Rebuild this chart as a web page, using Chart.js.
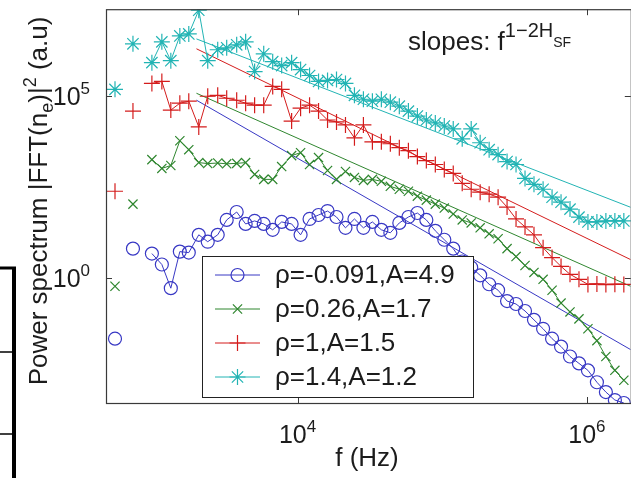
<!DOCTYPE html>
<html>
<head>
<meta charset="utf-8">
<script src="https://cdn.jsdelivr.net/npm/chart.js@4.4.0/dist/chart.umd.min.js"></script>
<style>
  html, body { margin: 0; padding: 0; background: #fff; overflow: hidden; }
  #wrap { width: 631px; height: 478px; overflow: hidden; }
</style>
</head>
<body>
<div id="wrap"><canvas id="spectrum" width="640" height="478"></canvas></div>
<script>
// frequency bins (Hz), shared by the four spectra
const freq = [
  547, 728, 984, 1153, 1330, 1535, 1770, 2075, 2393, 2805,
  3236, 3794, 4375, 5047, 5834, 6730, 7762, 9095, 10490, 12100,
  13960, 16110, 18580, 21430, 24720, 28510, 32890, 37940, 43770, 50490,
  58340, 67300, 77620, 89540, 103300, 119100, 137400, 158500, 182800, 210900,
  243200, 280500, 323600, 373300, 430500, 497700, 574100, 662200, 763800, 881000,
  1016000, 1172000, 1352000, 1560000, 1799000
];

// power spectra |FFT(n_e)|^2, arbitrary units
const powerRhoNeg = [
  0.0211, 6.37, 4.65, 2.33, 0.518, 5.27, 4.95, 15.3, 9.88, 15.3,
  39.3, 64.9, 30.5, 36.9, 30.5, 21.0, 34.6, 30.5, 15.3, 41.8,
  53.7, 69.1, 47.3, 23.8, 41.8, 23.8, 34.6, 21.0, 17.4, 32.5,
  47.3, 60.9, 39.3, 19.7, 11.2, 6.37, 2.82, 1.93, 1.17, 0.665,
  0.456, 0.229, 0.190, 0.122, 0.0695, 0.0395, 0.0211, 0.0128, 0.00682, 0.00440,
  0.00283, 0.00133, 0.000713, 0.000431, 0.000357
];
const powerRho026 = [
  0.587, 107, 1800, 1030, 1240, 5940, 3380, 1490, 1400, 1450,
  1380, 1420, 1490, 704, 514, 514, 1160, 2320, 2800, 1320,
  2050, 904, 514, 849, 583, 483, 514, 454, 331, 275,
  242, 177, 138, 107, 83.4, 57.2, 39.3, 32.5, 23.8, 16.3,
  11.9, 6.37, 3.85, 2.19, 1.41, 0.91, 0.456, 0.202, 0.115, 0.074,
  0.0395, 0.0186, 0.00682, 0.00283, 0.00151
];
const powerRho1 = [
  242, 3.9e4, 2.26e5, 2.56e5, 4.16e4, 6.44e4, 7.31e4, 1.43e4, 1.0e5, 1.06e5,
  8.83e4, 7.78e4, 6.44e4, 5.69e4, 5.69e4, 1.87e5, 1.55e5, 2.08e4, 4.71e4, 5.69e4,
  3.9e4, 2.22e4, 1.96e4, 1.62e4, 7170, 1.62e4, 5580, 5580, 4920, 3830,
  3170, 2180, 1690, 1320, 963, 750, 400, 275, 228, 201,
  166, 88.8, 41.8, 25.3, 15.3, 6.78, 3.62, 2.06, 1.25, 0.91,
  0.66, 0.68, 0.65, 0.67, 0.66
];
const powerRho14 = [
  1.55e5, 2.78e6, 8.44e5, 3.15e6, 9.57e5, 4.59e6, 5.21e6, 2.35e7, 9.57e5, 1.91e6,
  2.16e6, 2.61e6, 3.15e6, 4.8e5, 1.48e6, 8.99e5, 7.0e5, 8.44e5, 5.44e5, 3.73e5,
  2.56e5, 2.73e5, 2.9e5, 2.26e5, 1.06e5, 8.28e4, 7.31e4, 8.28e4, 6.87e4, 5.34e4,
  3.9e4, 2.85e4, 2.22e4, 1.84e4, 1.52e4, 1.26e4, 6730, 1.26e4, 5240, 3380,
  2470, 1590, 1320, 547, 376, 275, 166, 121, 78, 47,
  34.6, 34.6, 36.9, 36.9, 36.9
];

const seriesLabels = ['ρ=-0.091,A=4.9', 'ρ=0.26,A=1.7', 'ρ=1,A=1.5', 'ρ=1.4,A=1.2'];

// power-law fits f^(1-2H): value at the start and end frequency
const fitFreq = [2.0e3, 2.0e6];
const fitRhoNeg = [7.8e4, 0.0106];
const fitRho026 = [1.21e5, 0.587];
const fitRho1 = [2.03e6, 3.19];
const fitRho14 = [3.8e6, 88];

const xTicks = [1e4, 1e6];
const yTicks = [1e0, 1e5];

const FONT = '"Liberation Sans", Arial, Helvetica, sans-serif';
const TEXT = '#1c1c1c';
const colors = ['#3838c4', '#2f862f', '#d41c1c', '#22b4b4'];
const styles = ['circle', 'crossRot', 'cross', 'star'];
const radii = [6.5, 6.5, 8, 8];
const powers = [powerRhoNeg, powerRho026, powerRho1, powerRho14];
const fits = [fitRhoNeg, fitRho026, fitRho1, fitRho14];

const datasets = [];
powers.forEach((p, i) => {
  datasets.push({
    label: seriesLabels[i],
    data: freq.map((f, k) => ({ x: f, y: p[k] })),
    borderColor: colors[i],
    backgroundColor: 'rgba(0,0,0,0)',
    borderWidth: 1,
    pointStyle: styles[i],
    pointRadius: radii[i],
    pointBorderWidth: 1.2,
    pointBorderColor: colors[i],
    pointBackgroundColor: 'rgba(0,0,0,0)',
    tension: 0,
    // the two lowest bins are plotted as bare markers
    segment: { borderColor: c => (c.p0DataIndex < 2 ? 'rgba(0,0,0,0)' : undefined) }
  });
});
fits.forEach((p, i) => {
  datasets.push({
    label: '',
    data: fitFreq.map((f, k) => ({ x: f, y: p[k] })),
    borderColor: colors[i],
    borderWidth: 1,
    pointRadius: 0,
    tension: 0
  });
});

// text made of runs: [string, size, baseline shift]
function richWidth(ctx, parts) {
  let w = 0;
  parts.forEach(p => { ctx.font = p[1] + 'px ' + FONT; w += ctx.measureText(p[0]).width; });
  return w;
}
function drawRich(ctx, parts, x, y, align) {
  const w = richWidth(ctx, parts);
  let cx = align === 'center' ? x - w / 2 : align === 'right' ? x - w : x;
  parts.forEach(p => {
    ctx.font = p[1] + 'px ' + FONT;
    ctx.fillText(p[0], cx, y + (p[2] || 0));
    cx += ctx.measureText(p[0]).width;
  });
}
function seg(ctx, x1, y1, x2, y2) {
  ctx.beginPath();
  ctx.moveTo(x1, y1);
  ctx.lineTo(x2, y2);
  ctx.stroke();
}

const axesBox = {
  id: 'axesBox',
  afterDatasetsDraw(chart) {
    const { ctx, chartArea: a, scales: { x, y } } = chart;
    ctx.save();
    ctx.strokeStyle = '#3a3a3a';
    ctx.lineWidth = 1.2;
    ctx.strokeRect(a.left + 0.5, a.top + 0.5, a.right - a.left, a.bottom - a.top);
    ctx.lineWidth = 1;
    xTicks.forEach(v => {
      const px = Math.round(x.getPixelForValue(v)) + 0.5;
      seg(ctx, px, a.bottom, px, a.bottom - 6);
      seg(ctx, px, a.top, px, a.top + 6);
    });
    yTicks.forEach(v => {
      const py = Math.round(y.getPixelForValue(v)) + 0.5;
      seg(ctx, a.left, py, a.left + 6, py);
      seg(ctx, a.right, py, a.right - 6, py);
    });

    ctx.fillStyle = TEXT;
    ctx.textBaseline = 'alphabetic';
    xTicks.forEach(v => {
      const px = x.getPixelForValue(v);
      drawRich(ctx, [['10', 25], [String(Math.round(Math.log10(v))), 17, -11]], px, 443, 'center');
    });
    yTicks.forEach(v => {
      const py = y.getPixelForValue(v);
      drawRich(ctx, [['10', 25], [String(Math.round(Math.log10(v))), 17, -11]], 90, py + 9, 'right');
    });

    // axis titles
    drawRich(ctx, [['f (Hz)', 26]], 367, 466, 'center');
    ctx.save();
    ctx.translate(38, 201);
    ctx.rotate(-Math.PI / 2);
    drawRich(ctx, [['Power spectrum |FFT(n', 26], ['e', 18, 6], [')|', 26], ['2', 18, -11], [' (a.u)', 26]], 0, 9, 'center');
    ctx.restore();

    // slope annotation
    drawRich(ctx, [['slopes: f', 26], ['1\u22122H', 20, -13], ['SF', 14, -3]], 408, 50, 'left');

    // legend
    const lx = 202.5, ly = 256.5, lw = 271, lh = 141;
    ctx.fillStyle = '#fff';
    ctx.fillRect(lx, ly, lw, lh);
    ctx.strokeStyle = '#222';
    ctx.strokeRect(lx, ly, lw, lh);
    const rows = [275, 309, 343, 377];
    for (let i = 0; i < 4; i++) {
      const ds = chart.data.datasets[i];
      ctx.strokeStyle = ds.borderColor;
      ctx.lineWidth = 1;
      seg(ctx, 215, rows[i], 260, rows[i]);
      ctx.fillStyle = 'rgba(0,0,0,0)';
      ctx.lineWidth = 1.2;
      Chart.helpers.drawPoint(ctx, { pointStyle: ds.pointStyle, radius: ds.pointRadius, rotation: 0, borderWidth: 1.2 }, 237.5, rows[i]);
      ctx.fillStyle = TEXT;
      ctx.font = '26px ' + FONT;
      ctx.textBaseline = 'middle';
      ctx.fillText(ds.label, 275, rows[i] + 1);
    }

    // bracket lines at the left edge
    ctx.strokeStyle = '#000';
    ctx.lineWidth = 4;
    seg(ctx, 14, 267, 14, 478);
    ctx.lineWidth = 3;
    seg(ctx, 0, 268, 16, 268);
    ctx.lineWidth = 1.5;
    seg(ctx, 0, 352, 14, 352);
    seg(ctx, 0, 434, 14, 434);
    ctx.restore();
  }
};

new Chart(document.getElementById('spectrum').getContext('2d'), {
  type: 'line',
  data: { datasets: datasets },
  options: {
    responsive: false,
    animation: false,
    devicePixelRatio: 1,
    events: [],
    layout: { padding: { left: 106, right: 8, top: 5, bottom: 75 } },
    scales: {
      x: { type: 'logarithmic', min: 474, max: 2.01e6, display: false },
      y: { type: 'logarithmic', min: 3.57e-4, max: 2.5e7, display: false }
    },
    plugins: {
      legend: { display: false },
      tooltip: { enabled: false }
    }
  },
  plugins: [axesBox]
});
</script>
</body>
</html>
